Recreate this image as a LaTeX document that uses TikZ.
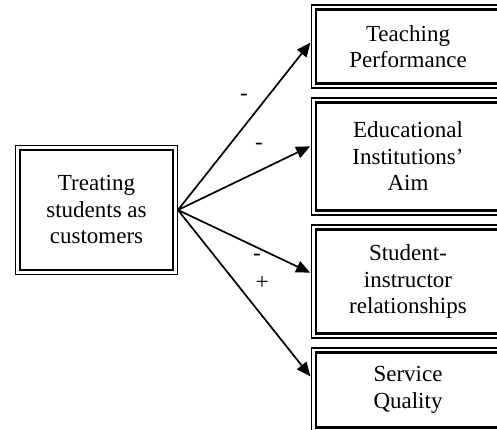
\documentclass[tikz,border=0pt]{standalone}
\usepackage{fontspec}
\setmainfont{Liberation Serif}
\usetikzlibrary{arrows.meta}

\begin{document}
\begin{tikzpicture}[x=1pt, y=1pt,
    box/.style={draw, line width=1.3pt, align=center, inner sep=0pt,
      font=\fontsize{23}{26.5}\selectfont},
    arr/.style={-{Triangle[length=14pt,width=12pt]}, line width=1.7pt, shorten >=0.8pt},
    sign/.style={inner sep=0pt, font=\fontsize{23}{26}\selectfont}]
    \useasboundingbox (0,0) rectangle (497,430);
    \clip (0,0) rectangle (497,430);
    \node[box, minimum width=161.6pt, minimum height=128.6pt] (treat) at (96.5, 220) {Treating\\students as\\customers};
    \node[box, minimum width=193pt, minimum height=83pt] (teach) at (408, 383.5) {Teaching\\Performance};
    \node[box, minimum width=193pt, minimum height=117pt] (aim) at (408, 273.5) {Educational\\Institutions'\\Aim};
    \node[box, minimum width=193pt, minimum height=113pt] (rel) at (408, 148.5) {Student-\\instructor\\relationships};
    \node[box, minimum width=193pt, minimum height=84pt] (serv) at (408, 40) {Service\\Quality};
    % inner thick frame of each box
    \foreach \b in {treat,teach,aim,rel,serv}
      \draw[line width=2.4pt] ([shift={(5pt,-5pt)}]\b.north west) rectangle ([shift={(-5pt,5pt)}]\b.south east);
    \draw[arr] (treat.east) -- ([yshift=4.5pt]teach.west);
    \draw[arr] (treat.east) -- ([yshift=10.5pt]aim.west);
    \draw[arr] (treat.east) -- ([yshift=8.5pt]rel.west);
    \draw[arr] (treat.east) -- ([yshift=13pt]serv.west);
    \node[sign] (s1) at (244, 333) {-};
    \node[sign] (s2) at (259, 284) {-};
    \node[sign] (s3) at (257, 173) {-};
    \node[sign] (s4) at (262, 147) {+};
\end{tikzpicture}
\end{document}
